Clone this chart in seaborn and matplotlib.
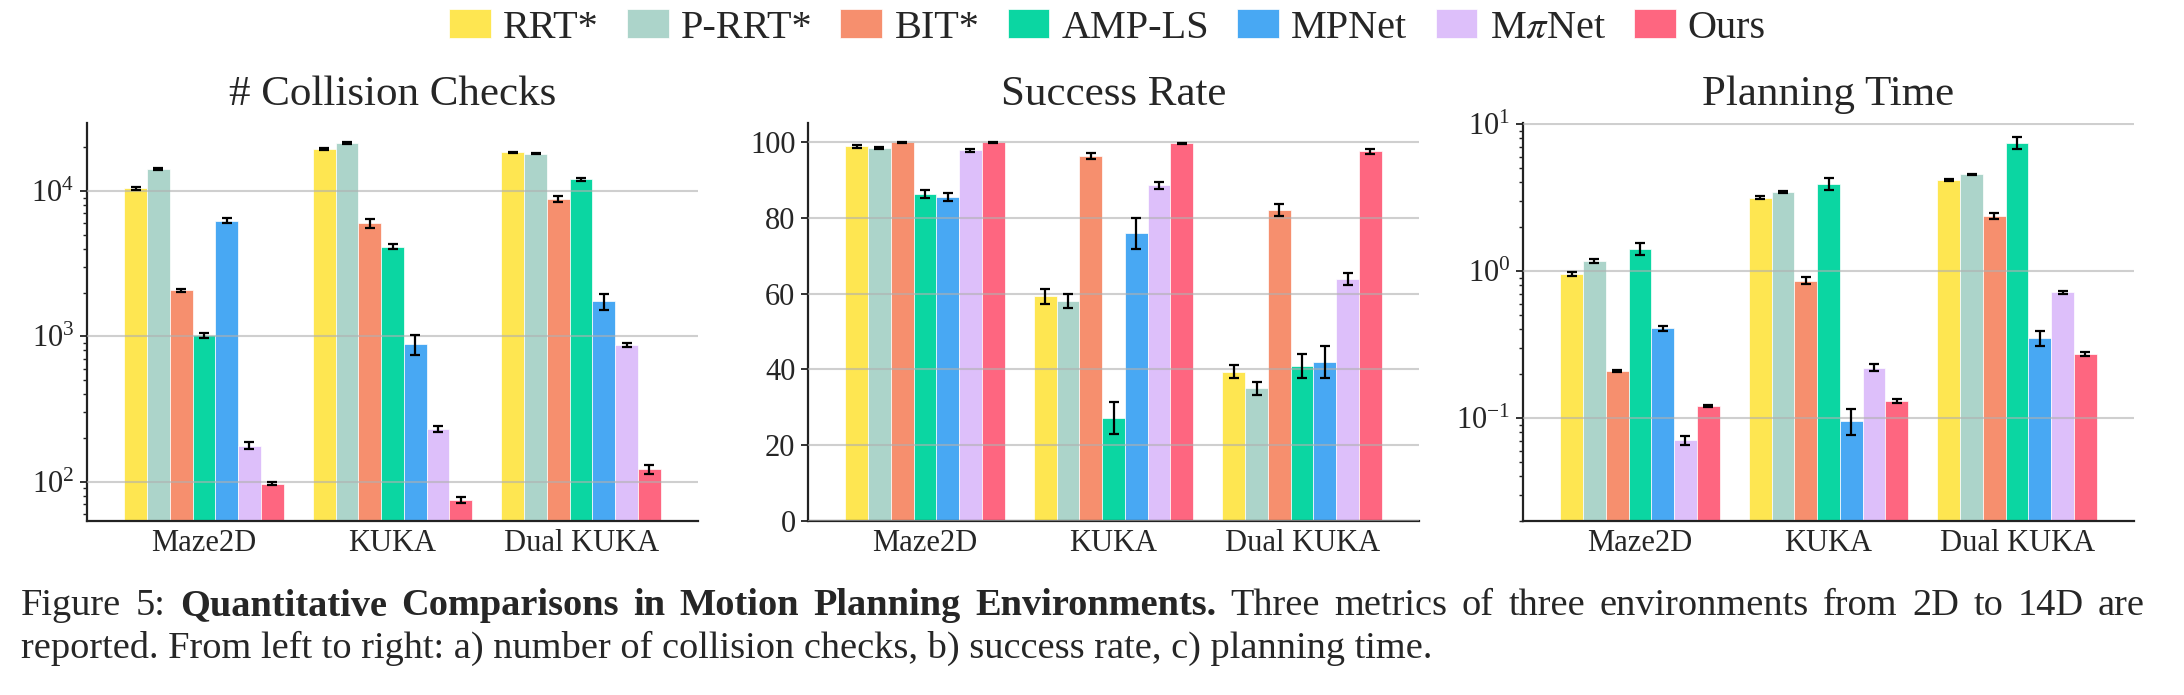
import numpy as np
import pandas as pd
import seaborn as sns
import matplotlib.pyplot as plt

# data
envs = ["Maze2D", "KUKA", "Dual KUKA"]
methods = ["RRT*", "P-RRT*", "BIT*", "AMP-LS", "MPNet", r"M$\pi$Net", "Ours"]
colors = ["#FEE651", "#ACD4CA", "#F68F6E", "#0BD6A2", "#48A8F3", "#DDBFFA", "#FE6680"]

# rows follow `methods`, columns follow `envs`
collision_mean = [[10400, 19450, 18450], [14100, 21400, 18000], [2070, 6000, 8850],
                  [1020, 4140, 12030], [6250, 880, 1750], [177, 231, 870], [97, 75, 122]]
collision_err = [[200, 300, 200], [250, 300, 150], [40, 400, 400],
                 [40, 150, 300], [250, 140, 220], [10, 12, 30], [2, 4, 8]]

success_mean = [[98.9, 59.3, 39.4], [98.5, 58.0, 35.0], [100.0, 96.4, 82.1],
                [86.3, 27.1, 40.9], [85.6, 75.9, 41.9], [97.9, 88.6, 63.9], [100.0, 99.7, 97.6]]
success_err = [[0.3, 2.0, 1.7], [0.3, 1.9, 1.7], [0.1, 0.8, 1.6],
               [1.0, 4.3, 3.2], [1.0, 4.0, 4.2], [0.4, 0.9, 1.5], [0.1, 0.2, 0.6]]

time_mean = [[0.954, 3.15, 4.17], [1.17, 3.46, 4.54], [0.209, 0.859, 2.37],
             [1.41, 3.90, 7.42], [0.407, 0.0954, 0.349], [0.0704, 0.220, 0.716], [0.120, 0.1305, 0.272]]
time_err = [[0.03, 0.07, 0.05], [0.03, 0.06, 0.05], [0.003, 0.05, 0.12],
            [0.13, 0.36, 0.7], [0.015, 0.019, 0.04], [0.005, 0.012, 0.02], [0.002, 0.005, 0.008]]

panels = [
    ("# Collision Checks", collision_mean, collision_err, True, (54, 29200)),
    ("Success Rate", success_mean, success_err, False, (0, 105)),
    ("Planning Time", time_mean, time_err, True, (0.02, 10.1)),
]

sns.set_theme(style="white")
plt.rcParams["font.family"] = ["Liberation Serif", "DejaVu Serif"]
plt.rcParams["mathtext.fontset"] = "stix"

W, H = 2184, 695
fig = plt.figure(figsize=(W / 100, H / 100), dpi=100)
lefts = [87, 808, 1523]
axes = [fig.add_axes([l / W, 174.3 / H, 611 / W, 397.4 / H]) for l in lefts]

for ax, (title, means, errs, logy, ylim) in zip(axes, panels):
    df = pd.DataFrame(
        [(env, m, v) for m, row in zip(methods, means) for env, v in zip(envs, row)],
        columns=["env", "method", "value"],
    )
    if logy:
        ax.set_yscale("log")
    sns.barplot(data=df, x="env", y="value", hue="method", order=envs, hue_order=methods,
                palette=colors, saturation=1, width=0.845, errorbar=None, legend=False,
                edgecolor="white", linewidth=0.5, ax=ax)

    # error bars on top of the bars seaborn placed
    for cont, e in zip(ax.containers, errs):
        xs = [p.get_x() + p.get_width() / 2 for p in cont]
        ys = [p.get_height() for p in cont]
        ax.errorbar(xs, ys, yerr=e, fmt="none", ecolor="black", elinewidth=1.6,
                    capsize=3.5, capthick=1.6, zorder=3)

    ax.set_ylim(*ylim)
    ax.set_xlim(-0.62, 2.62)
    if not logy:
        ax.set_yticks([0, 20, 40, 60, 80, 100])
    # grid sits over the bars, faintly
    ax.set_axisbelow(False)
    ax.yaxis.grid(True, which="major", color="#b0b0b0", lw=1.5, alpha=0.6)
    sns.despine(ax=ax)
    for s in ["left", "bottom"]:
        ax.spines[s].set_color("#222222")
        ax.spines[s].set_linewidth(1.6)
    ax.tick_params(axis="x", length=0, labelsize=22, pad=6)
    ax.tick_params(axis="y", which="major", direction="out", left=True, length=5, width=1.3,
                   labelsize=22, pad=4, color="#222222")
    ax.tick_params(axis="y", which="minor", direction="out", left=True, length=3, width=1,
                   color="#222222")
    ax.set_xlabel("")
    ax.set_ylabel("")
    ax.set_title(title, fontsize=31, pad=13)

fig.legend(axes[0].containers, methods, loc="center", bbox_to_anchor=(0.507, 0.96),
           ncol=7, frameon=False, fontsize=29, handlelength=1.04, handleheight=0.72,
           handletextpad=0.3, columnspacing=0.7)

# caption, first line justified word by word
line1 = ([("Figure", "normal"), ("5:", "normal")]
         + [(w, "bold") for w in "Quantitative Comparisons in Motion Planning Environments.".split()]
         + [(w, "normal") for w in "Three metrics of three environments from 2D to 14D are".split()])
line2 = "reported. From left to right: a) number of collision checks, b) success rate, c) planning time."

renderer = fig.canvas.get_renderer()
x0, x1 = 21, 2145
y1, y2 = 1 - 615 / H, 1 - 658 / H
words = [fig.text(0, y1, w, fontsize=27.6, weight=wt, va="baseline") for w, wt in line1]
widths = [t.get_window_extent(renderer).width for t in words]
gap = (x1 - x0 - sum(widths)) / (len(words) - 1)
x = x0
for t, w in zip(words, widths):
    t.set_x(x / W)
    x += w + gap
fig.text(x0 / W, y2, line2, fontsize=27.6, va="baseline")

fig.savefig("out.png", dpi=100)
